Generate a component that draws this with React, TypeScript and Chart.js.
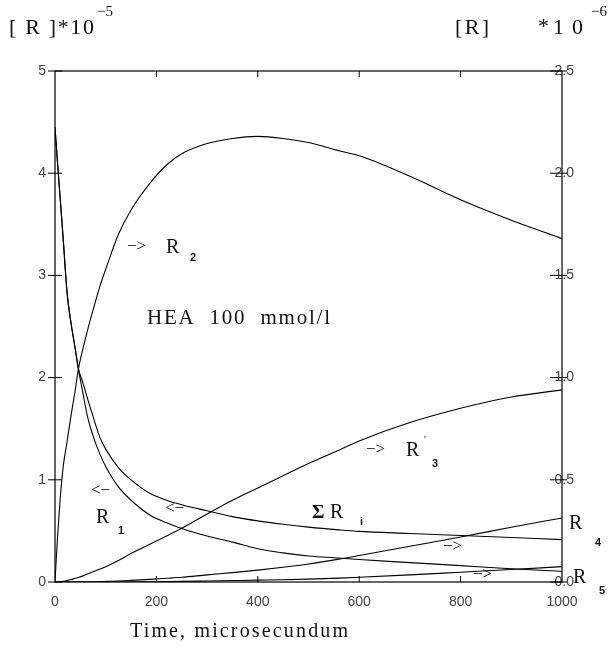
import React, { useEffect, useRef } from "react";
import { Chart, registerables } from "chart.js";

Chart.register(...registerables);

// time grid (microseconds)
const T = [0, 5, 10, 16, 24, 32, 40, 46, 55, 65, 75, 89, 100, 125, 150, 187, 220, 250, 300, 350, 400, 450, 500, 560, 600, 700, 800, 900, 1000];
// left axis (x 10^-5)
const R1 = [4.45, 4.1, 3.77, 3.37, 2.82, 2.52, 2.28, 2.09, 1.85, 1.6, 1.43, 1.246, 1.13, 0.93, 0.8, 0.656, 0.58, 0.523, 0.45, 0.39, 0.325, 0.285, 0.255, 0.235, 0.22, 0.19, 0.16, 0.13, 0.105];
const SUM_RI = [4.45, 4.1, 3.77, 3.37, 2.82, 2.52, 2.28, 2.09, 1.95, 1.78, 1.62, 1.41, 1.3, 1.12, 1.0, 0.869, 0.8, 0.756, 0.697, 0.64, 0.598, 0.565, 0.537, 0.51, 0.495, 0.475, 0.455, 0.435, 0.415];
// right axis (x 10^-6)
const R2 = [0, 0.22, 0.4, 0.56, 0.69, 0.82, 0.94, 1.04, 1.14, 1.24, 1.33, 1.45, 1.53, 1.7, 1.82, 1.95, 2.04, 2.095, 2.145, 2.17, 2.18, 2.17, 2.15, 2.11, 2.085, 1.985, 1.87, 1.77, 1.68];
const R3 = [0, 0, 0.001, 0.003, 0.007, 0.012, 0.018, 0.022, 0.03, 0.04, 0.05, 0.064, 0.075, 0.105, 0.14, 0.185, 0.225, 0.263, 0.333, 0.4, 0.46, 0.52, 0.58, 0.645, 0.69, 0.78, 0.85, 0.905, 0.94];
const R4 = [0, 0, 0, 0, 0, 0, 0, 0, 0, 0, 0, 0.002, 0.003, 0.005, 0.008, 0.013, 0.018, 0.023, 0.035, 0.046, 0.058, 0.072, 0.088, 0.112, 0.13, 0.175, 0.22, 0.268, 0.313];
const R5 = [0, 0, 0, 0, 0, 0, 0, 0, 0, 0, 0, 0, 0, 0, 0, 0.001, 0.002, 0.003, 0.005, 0.007, 0.009, 0.011, 0.014, 0.019, 0.023, 0.035, 0.048, 0.061, 0.075];

const LEFT_TICKS = [0, 1, 2, 3, 4, 5];
const RIGHT_TICKS = [0, 0.5, 1.0, 1.5, 2.0, 2.5];
const X_TICKS = [0, 200, 400, 600, 800, 1000];

const SERIF = "'Liberation Serif', 'Times New Roman', serif";
const SANS = "'Liberation Sans', Arial, sans-serif";

function txt(ctx: any, s: string, x: number, y: number, font: string, w?: number) {
  ctx.font = font;
  ctx.letterSpacing = "0px";
  if (w && s.length > 1) {
    const m = ctx.measureText(s).width;
    const ls = (w - m) / (s.length - 1);
    if (ls >= 0) {
      ctx.letterSpacing = ls + "px";
      ctx.fillText(s, x, y);
      ctx.letterSpacing = "0px";
    } else {
      ctx.save();
      ctx.translate(x, y);
      ctx.scale(w / m, 1);
      ctx.fillText(s, 0, 0);
      ctx.restore();
    }
  } else {
    ctx.fillText(s, x, y);
  }
}

const framePlugin = {
  id: "frame",
  afterDraw(chart: any) {
    const { ctx, chartArea: a, scales } = chart;
    const ys = scales.y, y1 = scales.y1, xs = scales.x;
    ctx.save();
    ctx.strokeStyle = "#000";
    ctx.lineWidth = 1.2;
    ctx.strokeRect(a.left, a.top, a.right - a.left, a.bottom - a.top);
    ctx.lineWidth = 1;
    ctx.beginPath();
    LEFT_TICKS.forEach((v) => {
      const y = ys.getPixelForValue(v);
      ctx.moveTo(a.left - 7, y);
      ctx.lineTo(a.left + 7, y);
    });
    RIGHT_TICKS.forEach((v) => {
      const y = y1.getPixelForValue(v);
      ctx.moveTo(a.right - 12, y);
      ctx.lineTo(a.right + 5, y);
    });
    X_TICKS.slice(1, -1).forEach((v) => {
      const x = xs.getPixelForValue(v);
      ctx.moveTo(x, a.bottom);
      ctx.lineTo(x, a.bottom - 6);
      ctx.moveTo(x, a.top);
      ctx.lineTo(x, a.top + 6);
    });
    ctx.stroke();

    ctx.fillStyle = "#111";
    ctx.textBaseline = "middle";
    ctx.textAlign = "left";
    const big = `20px ${SERIF}`;
    const arrow = `17px ${SERIF}`;
    const sub = `bold 11px ${SANS}`;
    const RA = "\u2212>";
    const LA = "<\u2212";
    // header
    txt(ctx, "[ R ]*10", 9, 28, `22px ${SERIF}`, 85);
    txt(ctx, "\u22125", 97, 12, `15px ${SERIF}`);
    txt(ctx, "[R]", 455, 28, `22px ${SERIF}`, 34);
    txt(ctx, "*", 538, 27, `22px ${SERIF}`);
    txt(ctx, "10", 553, 28, `22px ${SERIF}`, 30);
    txt(ctx, "\u22126", 591, 12, `15px ${SERIF}`);
    // R2
    txt(ctx, RA, 127, 247, arrow);
    txt(ctx, "R", 166, 248, big);
    txt(ctx, "2", 190, 258, sub);
    // HEA
    txt(ctx, "HEA  100  mmol/l", 147, 318, `21px ${SERIF}`, 183);
    // R1
    txt(ctx, LA, 91, 491, arrow);
    txt(ctx, "R", 96, 518, big);
    txt(ctx, "1", 118, 531, sub);
    // sum
    txt(ctx, LA, 165, 509, arrow);
    txt(ctx, "\u03A3", 312, 513, `bold 19px ${SERIF}`);
    txt(ctx, "R", 330, 513, big);
    txt(ctx, "i", 360, 522, sub);
    // R3
    txt(ctx, RA, 366, 450, arrow);
    txt(ctx, "R", 406, 451, big);
    txt(ctx, "'", 424, 440, `11px ${SERIF}`);
    txt(ctx, "3", 432, 464, sub);
    // R4 / R5
    txt(ctx, RA, 443, 547, arrow);
    txt(ctx, RA, 473, 575, arrow);
    txt(ctx, "R", 569, 524, big);
    txt(ctx, "4", 595, 543, sub);
    txt(ctx, "R", 573, 578, big);
    txt(ctx, "5", 599, 591, sub);
    // x title
    txt(ctx, "Time, microsecundum", 130, 632, `20px ${SERIF}`, 218);
    ctx.restore();
  },
};

const mk = (label: string, vals: number[], axis: string) => ({
  label,
  data: T.map((t, i) => ({ x: t, y: vals[i] })),
  yAxisID: axis,
  borderColor: "#000",
  borderWidth: 1.1,
  pointRadius: 0,
  fill: false,
  cubicInterpolationMode: "monotone" as const,
});

export default function App() {
  const ref = useRef<HTMLCanvasElement>(null);
  useEffect(() => {
    document.body.style.margin = "0";
    const chart = new Chart(ref.current!, {
      type: "line",
      data: {
        datasets: [
          mk("R1", R1, "y"),
          mk("ΣRi", SUM_RI, "y"),
          mk("R2", R2, "y1"),
          mk("R3", R3, "y1"),
          mk("R4", R4, "y1"),
          mk("R5", R5, "y1"),
        ],
      },
      options: {
        responsive: false,
        animation: false,
        layout: { padding: { top: 71, left: 0, right: 0, bottom: 0 } },
        plugins: { legend: { display: false }, tooltip: { enabled: false } },
        scales: {
          x: {
            type: "linear",
            min: 0,
            max: 1000,
            afterFit: (s: any) => { s.height = 68; },
            afterBuildTicks: (s: any) => { s.ticks = X_TICKS.map((v) => ({ value: v })); },
            grid: { display: false, drawTicks: false },
            border: { display: false },
            ticks: {
              color: "#444",
              font: { family: SANS, size: 14 },
              padding: 12,
              maxRotation: 0,
              callback: (v: any) => String(v),
            },
          },
          y: {
            type: "linear",
            position: "left",
            min: 0,
            max: 5,
            afterFit: (s: any) => { s.width = 55; },
            afterBuildTicks: (s: any) => { s.ticks = LEFT_TICKS.map((v) => ({ value: v })); },
            grid: { display: false, drawTicks: false },
            border: { display: false },
            ticks: { color: "#444", font: { family: SANS, size: 14 }, padding: 9 },
          },
          y1: {
            type: "linear",
            position: "right",
            min: 0,
            max: 2.5,
            afterFit: (s: any) => { s.width = 50; },
            afterBuildTicks: (s: any) => { s.ticks = RIGHT_TICKS.map((v) => ({ value: v })); },
            grid: { display: false, drawTicks: false },
            border: { display: false },
            ticks: {
              color: "#444",
              font: { family: SANS, size: 14 },
              mirror: true,
              padding: 12,
              callback: (v: any) => Number(v).toFixed(1),
            },
          },
        },
      },
      plugins: [framePlugin],
    });
    return () => chart.destroy();
  }, []);
  return (
    <div style={{ position: "fixed", left: 0, top: 0, width: 612, height: 650, background: "#fff" }}>
      <canvas ref={ref} width={612} height={650} />
    </div>
  );
}
